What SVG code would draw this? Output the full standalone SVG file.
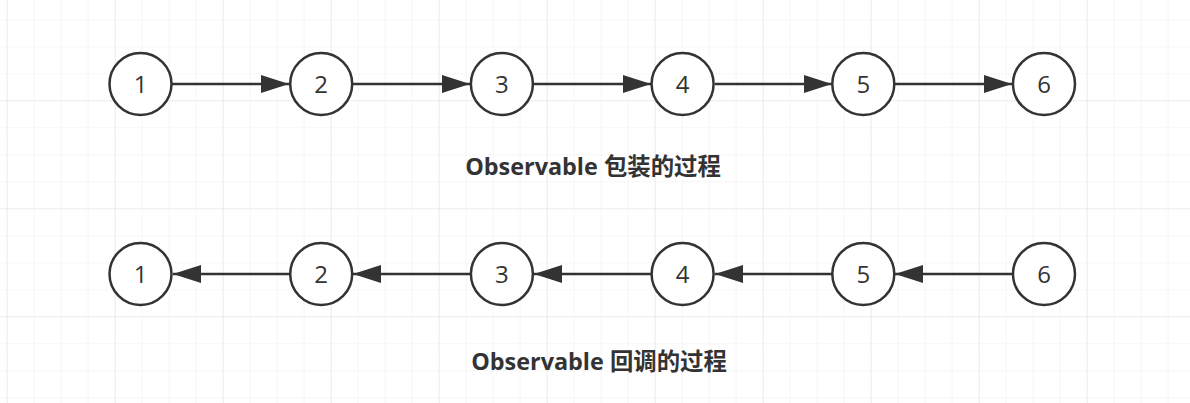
<svg xmlns="http://www.w3.org/2000/svg" width="1190" height="403" viewBox="0 0 1190 403">
<defs>
<pattern id="minor" width="27" height="27" patternUnits="userSpaceOnUse" x="6.7" y="19.3">
<path d="M0 0H27M0 0V27" fill="none" stroke="#f0f0f0" stroke-width="1.2"/>
</pattern>
<pattern id="major" width="108" height="108" patternUnits="userSpaceOnUse" x="6.7" y="-7.7">
<path d="M0 0H108M0 0V108" fill="none" stroke="#e4e4e4" stroke-width="1.2"/>
</pattern>
<marker id="ah" viewBox="0 0 28 18" refX="28" refY="9" markerWidth="28" markerHeight="18" markerUnits="userSpaceOnUse" orient="auto">
<path d="M0 0L28 9L0 18Z" fill="#333"/>
</marker>
</defs>
<style>
.n{fill:#fff;stroke:#333;stroke-width:2.5}
.t{font-family:"Open Sans","Noto Sans CJK SC",sans-serif;font-size:24px;fill:#333;text-anchor:middle}
.e{stroke:#333;stroke-width:2.5;fill:none;marker-end:url(#ah)}
.h{font-family:"Open Sans","Noto Sans CJK SC",sans-serif;font-size:23.4px;font-weight:bold;fill:#333;text-anchor:middle}
</style>
<rect width="1190" height="403" fill="#fff"/>
<rect width="1190" height="403" fill="url(#minor)"/>
<rect width="1190" height="403" fill="url(#major)"/>
<g id="connectors">
<line class="e" x1="172" y1="84" x2="289" y2="84"/>
<line class="e" x1="353" y1="84" x2="470" y2="84"/>
<line class="e" x1="534" y1="84" x2="651" y2="84"/>
<line class="e" x1="715" y1="84" x2="832" y2="84"/>
<line class="e" x1="895" y1="84" x2="1012" y2="84"/>
<line class="e" x1="1012" y1="274" x2="895" y2="274"/>
<line class="e" x1="832" y1="274" x2="715" y2="274"/>
<line class="e" x1="651" y1="274" x2="534" y2="274"/>
<line class="e" x1="470" y1="274" x2="353" y2="274"/>
<line class="e" x1="289" y1="274" x2="173" y2="274"/>
</g>
<g id="a1"><circle class="n" cx="140.5" cy="84" r="31"/><text class="t" x="140.5" y="93">1</text></g>
<g id="a2"><circle class="n" cx="321.2" cy="84" r="31"/><text class="t" x="321.2" y="93">2</text></g>
<g id="a3"><circle class="n" cx="501.9" cy="84" r="31"/><text class="t" x="501.9" y="93">3</text></g>
<g id="a4"><circle class="n" cx="682.6" cy="84" r="31"/><text class="t" x="682.6" y="93">4</text></g>
<g id="a5"><circle class="n" cx="863.3" cy="84" r="31"/><text class="t" x="863.3" y="93">5</text></g>
<g id="a6"><circle class="n" cx="1044" cy="84" r="31"/><text class="t" x="1044" y="93">6</text></g>
<g id="b1"><circle class="n" cx="140.5" cy="274" r="31"/><text class="t" x="140.5" y="283">1</text></g>
<g id="b2"><circle class="n" cx="321.2" cy="274" r="31"/><text class="t" x="321.2" y="283">2</text></g>
<g id="b3"><circle class="n" cx="501.9" cy="274" r="31"/><text class="t" x="501.9" y="283">3</text></g>
<g id="b4"><circle class="n" cx="682.6" cy="274" r="31"/><text class="t" x="682.6" y="283">4</text></g>
<g id="b5"><circle class="n" cx="863.3" cy="274" r="31"/><text class="t" x="863.3" y="283">5</text></g>
<g id="b6"><circle class="n" cx="1044" cy="274" r="31"/><text class="t" x="1044" y="283">6</text></g>
<g id="title1"><text class="h" x="593" y="175">Observable 包装的过程</text></g>
<g id="title2"><text class="h" x="599" y="369.5">Observable 回调的过程</text></g>
</svg>
